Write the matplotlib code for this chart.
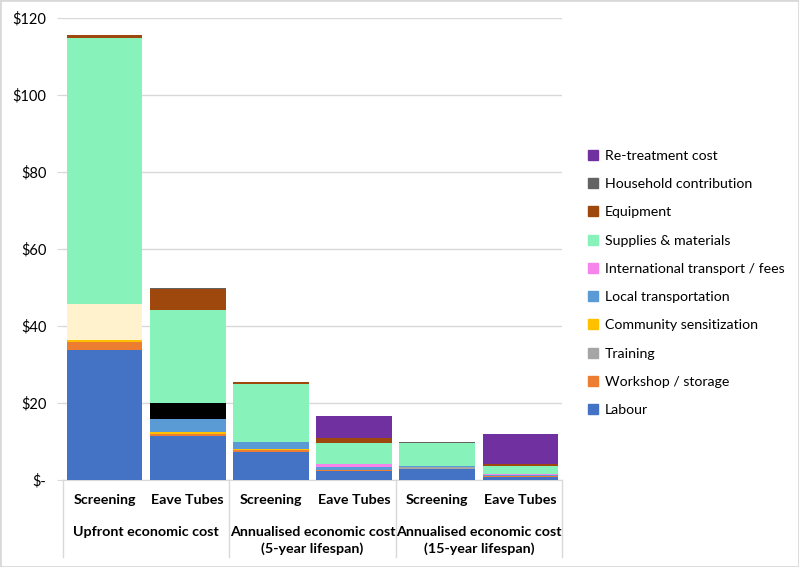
import matplotlib
matplotlib.use('Agg')
import matplotlib.pyplot as plt
from matplotlib.patches import Patch, Rectangle
import numpy as np

plt.rcParams['font.family'] = ['Lato', 'DejaVu Sans']

# ── data ─────────────────────────────────────────────────────────────────────
categories = ['Screening', 'Eave Tubes'] * 3
groups = ['Upfront economic cost',
          'Annualised economic cost\n(5-year lifespan)',
          'Annualised economic cost\n(15-year lifespan)']

# stacked bottom → top
labour          = [33.8, 11.3, 7.3, 2.34, 2.8, 0.87]
workshop        = [2.0, 0.6, 0.5, 0.15, 0.1, 0.05]
training        = [0.0, 0.0, 0.0, 0.0, 0.35, 0.15]
community       = [0.6, 0.6, 0.3, 0.11, 0.0, 0.05]
local_transport = [0.0, 3.3, 1.8, 0.78, 0.45, 0.1]
intl_transport  = [0.0, 0.0, 0.0, 0.87, 0.0, 0.43]
screen_extra    = [9.3, 0.0, 0.0, 0.0, 0.0, 0.0]   # not in legend
tube_extra      = [0.0, 4.3, 0.0, 0.0, 0.0, 0.0]   # not in legend
supplies        = [69.2, 24.1, 15.1, 5.28, 5.9, 2.08]
equipment       = [0.7, 5.4, 0.35, 1.3, 0.1, 0.43]
household       = [0.0, 0.3, 0.0, 0.0, 0.15, 0.0]
retreatment     = [0.0, 0.0, 0.0, 5.8, 0.0, 7.8]

series = [
    ('Labour',                        labour,          '#4472C4'),
    ('Workshop / storage',            workshop,        '#ED7D31'),
    ('Training',                      training,        '#A5A5A5'),
    ('Community sensitization',       community,       '#FFC000'),
    ('Local transportation',          local_transport, '#5B9BD5'),
    ('International transport / fees', intl_transport, '#F783EC'),
    (None,                            screen_extra,    '#FFF2CC'),
    (None,                            tube_extra,      '#000000'),
    ('Supplies & materials',          supplies,        '#88F2BB'),
    ('Equipment',                     equipment,       '#9E480E'),
    ('Household contribution',        household,       '#636363'),
    ('Re-treatment cost',             retreatment,     '#7030A0'),
]

GRID = '#D9D9D9'

fig = plt.figure(figsize=(7.99, 5.67), dpi=100)
ax = fig.add_axes([63/799, 1 - 480/567, 499/799, 462/567])

x = np.arange(len(categories))
bottom = np.zeros(len(categories))
for label, vals, col in series:
    vals = np.array(vals)
    ax.bar(x, vals, 0.91, bottom=bottom, color=col, zorder=3)
    bottom += vals

ax.set_xlim(-0.5, len(categories) - 0.5)
ax.set_ylim(0, 120)
ax.set_yticks(range(0, 121, 20))
ax.set_yticklabels(['$-' if v == 0 else f'${v}' for v in range(0, 121, 20)],
                   fontsize=10.5)
ax.yaxis.grid(True, color=GRID, lw=1, zorder=0)
ax.tick_params(axis='y', length=4, color=GRID, pad=8)
ax.set_xticks([])
for s in ['top', 'right', 'left']:
    ax.spines[s].set_visible(False)
ax.spines['bottom'].set_color(GRID)

# category + group labels under the axis
trans = ax.get_xaxis_transform()
for xi, cat in zip(x, categories):
    ax.text(xi, -20/462, cat, transform=trans, ha='center', va='center',
            fontsize=10.3, fontweight='bold')
for gi, g in enumerate(groups):
    ax.text(2*gi + 0.5, -46/462, g, transform=trans, ha='center', va='top',
            fontsize=10.3, fontweight='bold', linespacing=1.4)
for sx in [-0.5, 1.5, 3.5, 5.5]:
    ax.plot([sx, sx], [0, -77/462], transform=trans, color=GRID, lw=1,
            clip_on=False)

# legend (top entry first)
handles = [Patch(color=c, label=l) for l, v, c in series if l][::-1]
fig.legend(handles=handles, loc='upper left', bbox_to_anchor=(582/799, 1 - 144/567),
           frameon=False, fontsize=10.2, handlelength=0.7, handleheight=0.7,
           handletextpad=0.5, labelspacing=1.15, borderaxespad=0)

fig.patches.append(Rectangle((0, 0), 1, 1, transform=fig.transFigure,
                             fill=False, edgecolor=GRID, lw=2))

fig.savefig('out.png', dpi=100)
